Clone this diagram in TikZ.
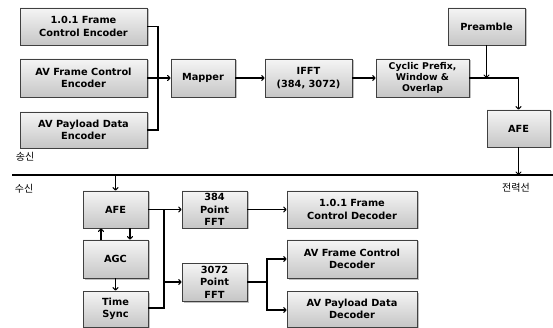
\documentclass[tikz,border=0pt]{standalone}
\usepackage{fontspec}
\setmainfont{DejaVu Sans}
\newfontfamily\kr{Noto Sans CJK KR}
\usetikzlibrary{shadows,arrows.meta,calc}
\begin{document}
\begin{tikzpicture}[x=1pt,y=-1pt,
  blk/.style={draw=gray!50!black, line width=0.8pt, rectangle, top color=gray!8, bottom color=gray!45,
    drop shadow={shadow xshift=1.5pt, shadow yshift=-1.5pt, fill=gray!70, opacity=0.7},
    align=center, font=\bfseries\fontsize{9.8}{12.5}\selectfont, inner sep=0pt},
  three/.style={font=\bfseries\fontsize{9.8}{12.5}\selectfont},
  conn/.style={line width=1.1pt, black},
  arr/.style={conn, -{To[length=3.5pt,width=6pt,line width=1pt]}},
  lbl/.style={font=\kr\fontsize{10}{12}\selectfont, inner sep=0pt}]
\useasboundingbox (0,0) rectangle (553,328);
% transmit
\node[blk, minimum width=127pt, minimum height=37pt] (enc1) at (83.5,26.5) {1.0.1 Frame\\Control Encoder};
\node[blk, minimum width=127pt, minimum height=38pt] (enc2) at (83.5,78) {AV Frame Control\\Encoder};
\node[blk, minimum width=127pt, minimum height=36pt] (enc3) at (83.5,130) {AV Payload Data\\Encoder};
\node[blk, minimum width=64pt, minimum height=38pt] (mapper) at (203,78) {Mapper};
\node[blk, minimum width=87pt, minimum height=38pt] (ifft) at (308.5,78) {IFFT\\(384, 3072)};
\node[blk, three, minimum width=93pt, minimum height=38pt, font=\bfseries\fontsize{9.3}{11}\selectfont] (cp) at (422.5,78) {Cyclic Prefix,\\Window \&\\Overlap};
\node[blk, minimum width=77pt, minimum height=37pt] (pre) at (486.5,26.5) {Preamble};
\node[blk, minimum width=63pt, minimum height=37pt] (afet) at (518.5,128.5) {AFE};
% receive
\node[blk, minimum width=65pt, minimum height=37pt] (afer) at (115.5,209.5) {AFE};
\node[blk, minimum width=65pt, minimum height=38pt] (agc) at (115.5,259) {AGC};
\node[blk, minimum width=65pt, minimum height=36pt] (ts) at (115.5,309) {Time\\Sync};
\node[blk, three, minimum width=65pt, minimum height=37pt] (f384) at (214.5,209.5) {384\\Point\\FFT};
\node[blk, three, minimum width=65pt, minimum height=38pt] (f3072) at (214.5,282) {3072\\Point\\FFT};
\node[blk, minimum width=130pt, minimum height=37pt] (dec1) at (352,209.5) {1.0.1 Frame\\Control Decoder};
\node[blk, minimum width=130pt, minimum height=38pt] (dec2) at (352,259) {AV Frame Control\\Decoder};
\node[blk, minimum width=130pt, minimum height=36pt] (dec3) at (352,309) {AV Payload Data\\Decoder};
% labels
\node[lbl] (tx) at (25,157) {송신};
\node[lbl] (rx) at (24,189) {수신};
\node[lbl] (pl) at (516,188) {전력선};
% power line
\coordinate (plL) at (12,175);
\coordinate (plR) at (553,175);
\draw[line width=2.2pt] (plL) -- (plR);
% tx connectors
\coordinate (busT) at (158,26.5);
\coordinate (busB) at (158,130);
\draw[conn] (enc1.east) -- (busT) -- (busB) -- (enc3.east);
\draw[arr] (enc2.east) -- (mapper.west);
\draw[arr] (mapper.east) -- (ifft.west);
\draw[arr] (ifft.east) -- (cp.west);
\draw[arr] (cp.east) -| (afet.north);
\draw[arr] (pre.south) -- (pre.south |- cp.east);
\coordinate (plT) at (518.5,175);
\draw[arr] (afet.south) -- (plT);
% rx connectors
\coordinate (plD) at (115.5,175);
\draw[arr] (plD) -- (afer.north);
\draw[arr] ([xshift=-14.5pt]agc.north) -- ([xshift=-14.5pt]afer.south);
\draw[arr] ([xshift=14.5pt]afer.south) -- ([xshift=14.5pt]agc.north);
\draw[arr] (agc.south) -- (ts.north);
\coordinate (rbT) at (164,209.5);
\coordinate (rbB) at (164,308);
\draw[conn] (afer.east) -- (rbT) -- (rbB) -- (ts.east |- rbB);
\draw[arr] (rbT) -- (f384.west);
\draw[arr] (rbT |- f3072.west) -- (f3072.west);
\draw[arr] (f384.east) -- (dec1.west);
\coordinate (db) at (267,282);
\draw[conn] (f3072.east) -- (db);
\draw[arr] (db) |- (dec2.west);
\draw[arr] (db) |- ([yshift=-1pt]dec3.west);
\end{tikzpicture}
\end{document}
